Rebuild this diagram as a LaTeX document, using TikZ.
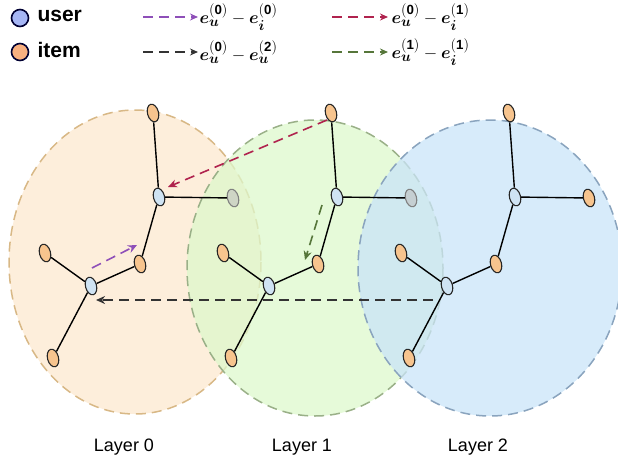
\documentclass[tikz,border=0pt]{standalone}
\usepackage{amsmath}
\usepackage{bm}
\usepackage{fontspec}
\setmainfont{Liberation Sans}
\usetikzlibrary{arrows.meta,shapes.geometric}
\definecolor{ucol}{HTML}{CFE3F3}
\definecolor{icol}{HTML}{F7C48E}
\definecolor{pur}{HTML}{8E4FB8}
\definecolor{red1}{HTML}{B0234E}
\definecolor{grn}{HTML}{56763A}
\definecolor{blk}{HTML}{333333}
\definecolor{f0}{HTML}{FDEBD5}
\definecolor{f1}{HTML}{DDF8CC}
\definecolor{f2}{HTML}{C9E4F8}
\definecolor{d0}{HTML}{D8B886}
\definecolor{d1}{HTML}{9AB088}
\definecolor{d2}{HTML}{8AA4BE}
\tikzset{
 un/.style={ellipse,draw=black!85,line width=1.1pt,fill=ucol,minimum width=11pt,minimum height=18pt,inner sep=0pt,rotate=15},
 inn/.style={ellipse,draw=black!85,line width=1.1pt,fill=icol,minimum width=11pt,minimum height=18pt,inner sep=0pt,rotate=15},
 gn/.style={ellipse,draw=black!50,line width=1.1pt,fill=black!25,fill opacity=0.6,minimum width=11pt,minimum height=18pt,inner sep=0pt,rotate=15},
 ed/.style={line width=1.4pt,black},
 arr/.style={line width=1.6pt,dash pattern=on 10pt off 6pt,-{Stealth[length=9pt,width=8pt]}},
 lay/.style={line width=1.5pt,dash pattern=on 10pt off 6pt},
 lbl/.style={font=\fontsize{19}{21}\selectfont},
}
\begin{document}
\begin{tikzpicture}[x=1pt,y=-1pt]
\useasboundingbox (0,0) rectangle (618,466);
% layers
\fill[f0,opacity=0.85] (135,262) ellipse [x radius=126,y radius=152];
\draw[lay,draw=d0] (135,262) ellipse [x radius=126,y radius=152];
\fill[f1,opacity=0.75] (315,268) ellipse [x radius=128,y radius=148];
\draw[lay,draw=d1] (315,268) ellipse [x radius=128,y radius=148];
\fill[f2,opacity=0.75] (490,268) ellipse [x radius=132,y radius=148];
\draw[lay,draw=d2] (490,268) ellipse [x radius=132,y radius=148];
% graphs
\foreach \dx/\n/\last in {0/a/gn,178/b/gn,356/c/inn}{
 \begin{scope}[xshift=\dx]
 \node[inn] (\n t) at (153,113) {};
 \node[un] (\n u) at (159,197) {};
 \node[\last] (\n g) at (233,198) {};
 \node[inn] (\n m) at (140,264) {};
 \node[un] (\n v) at (91,286) {};
 \node[inn] (\n l) at (45,253) {};
 \node[inn] (\n b) at (53,358) {};
 \draw[ed] (\n t)--(\n u) (\n u)--(\n m) (\n m)--(\n v) (\n v)--(\n l) (\n v)--(\n b);
 \draw[ed] (\n u)--(\n g);
 \end{scope}}
% arrows
\coordinate (p1) at (92,268); \coordinate (p2) at (137,245);
\draw[arr,pur] (p1)--(p2);
\coordinate (r1) at (327,120); \coordinate (r2) at (168,187);
\draw[arr,red1] (r1)--(r2);
\coordinate (g1) at (322,205); \coordinate (g2) at (305,260);
\draw[arr,grn] (g1)--(g2);
\coordinate (k1) at (433,300); \coordinate (k2) at (96,300);
\draw[arr,blk] (k1)--(k2);
% legend
\node[circle,draw=black!80!blue,line width=1.6pt,fill=ucol!80!blue,minimum size=17pt,inner sep=0pt] (lu) at (20,18) {};
\node[anchor=west,font=\bfseries\fontsize{21}{23}\selectfont] (lut) at (34,16) {user};
\node[circle,draw=black!80!blue,line width=1.6pt,fill=icol!90!red,minimum size=17pt,inner sep=0pt] (li) at (20,52) {};
\node[anchor=west,font=\bfseries\fontsize{21}{23}\selectfont] (lit) at (34,50) {item};
\tikzset{larr/.style={line width=1.6pt,dash pattern=on 10pt off 6pt,-{Stealth[length=8pt,width=7pt]}}}
\coordinate (a1) at (143,17); \coordinate (a2) at (198,17);
\draw[larr,pur] (a1)--(a2);
\node[anchor=west,lbl] (t1) at (196,17) {$\bm{e_u}^{\mathbf{(0)}} - \bm{e_i}^{\mathbf{(0)}}$};
\coordinate (b1) at (332,17); \coordinate (b2) at (388,17);
\draw[larr,red1] (b1)--(b2);
\node[anchor=west,lbl] (t2) at (388,17) {$\bm{e_u}^{\mathbf{(0)}} - \bm{e_i}^{\mathbf{(1)}}$};
\coordinate (c1) at (143,52); \coordinate (c2) at (198,52);
\draw[larr,blk] (c1)--(c2);
\node[anchor=west,lbl] (t3) at (196,52) {$\bm{e_u}^{\mathbf{(0)}} - \bm{e_u}^{\mathbf{(2)}}$};
\coordinate (d1) at (332,52); \coordinate (d2) at (388,52);
\draw[larr,grn] (d1)--(d2);
\node[anchor=west,lbl] (t4) at (388,52) {$\bm{e_u}^{\mathbf{(1)}} - \bm{e_i}^{\mathbf{(1)}}$};
% labels
\node[font=\fontsize{18}{20}\selectfont] (L0) at (124,447) {Layer 0};
\node[font=\fontsize{18}{20}\selectfont] (L1) at (302,447) {Layer 1};
\node[font=\fontsize{18}{20}\selectfont] (L2) at (478,447) {Layer 2};
\end{tikzpicture}
\end{document}
